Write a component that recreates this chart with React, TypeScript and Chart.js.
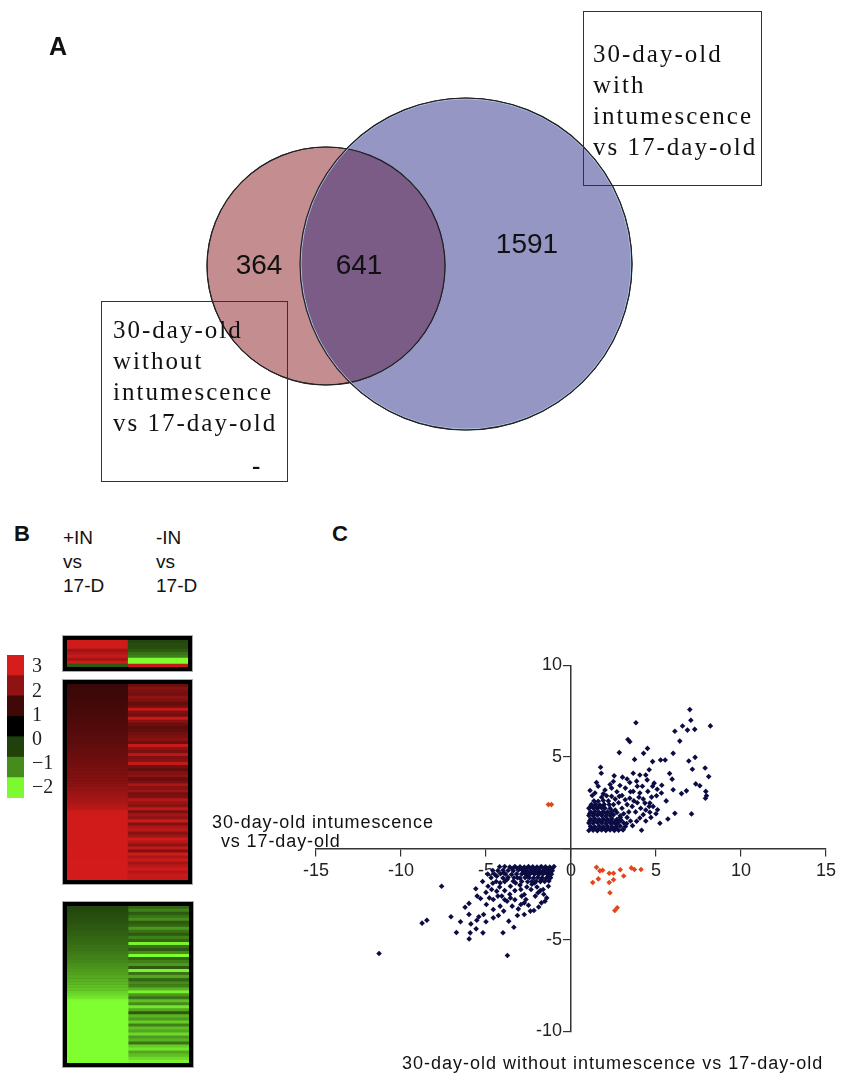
import React, { useEffect, useRef } from 'react';
import { Chart, registerables } from 'chart.js';
Chart.register(...registerables);

// ---------------- Panel A : Venn diagram ----------------
const vennSetNames = ['30-day-old without intumescence vs 17-day-old', '30-day-old with intumescence vs 17-day-old'];
const vennRegionLabels = ['364', '641', '1591'];
const vennBoxWithout = ['30-day-old', 'without', 'intumescence', 'vs 17-day-old'];
const vennBoxWith = ['30-day-old', 'with', 'intumescence', 'vs 17-day-old'];

// ---------------- Panel B : heat map (log2 ratios) ----------------
const heatColumnLines = [['+IN', 'vs', '17-D'], ['-IN', 'vs', '17-D']];
const heatTopWithIN = [2.9, 2.9, 2.9, 2.2, 2.5, 2.8, 2.3, 2.9, -0.7];
const heatTopWithoutIN = [-0.55, -0.6, -0.6, -0.7, -0.9, -1.0, -2.0, -2.0, 2.8];
const heatUpWithIN = [
  0.80, 0.82, 0.84, 0.86, 0.88, 0.90, 0.93, 0.95, 0.98, 1.00,
  1.03, 1.06, 1.09, 1.12, 1.15, 1.18, 1.21, 1.24, 1.27, 1.30,
  1.34, 1.38, 1.42, 1.46, 1.50, 1.54, 1.58, 1.63, 1.68, 1.73,
  1.78, 1.84, 1.90, 1.96, 2.02, 2.09, 2.16, 2.23, 2.31, 2.40,
  2.50, 2.62, 2.88, 2.90, 2.91, 2.90, 2.92, 2.91, 2.90, 2.92,
  2.93, 2.91, 2.92, 2.93, 2.92, 2.94, 2.93, 2.92, 2.94, 2.95,
  2.94, 2.93, 2.95, 2.94, 2.95,
];
const heatUpWithoutIN = [
  1.5, 1.9, 1.7, 1.6, 2.0, 1.8, 1.4, 1.6, 2.7, 1.8,
  1.6, 2.8, 1.9, 1.5, 1.3, 1.4, 1.6, 1.7, 1.9, 1.5,
  2.8, 2.0, 1.7, 2.6, 1.8, 1.9, 2.7, 1.6, 1.4, 1.8,
  2.0, 1.5, 1.7, 2.4, 1.9, 2.2, 1.6, 1.8, 2.5, 2.1,
  1.9, 2.7, 1.7, 2.3, 2.0, 2.8, 1.8, 2.4, 2.6, 1.9,
  2.2, 2.9, 2.5, 2.0, 2.7, 1.8, 2.9, 2.4, 2.8, 2.3,
  2.6, 2.9, 2.5, 2.8, 2.7,
];
const heatDownWithIN = [
  -0.55, -0.57, -0.59, -0.61, -0.63, -0.65, -0.68, -0.70, -0.73, -0.76,
  -0.79, -0.82, -0.85, -0.88, -0.91, -0.95, -0.99, -1.03, -1.07, -1.11,
  -1.16, -1.21, -1.26, -1.31, -1.37, -1.43, -1.49, -1.55, -1.62, -1.70,
  -1.80, -1.98, -2.0, -2.0, -1.99, -2.0, -2.0, -2.0, -1.99, -2.0,
  -2.0, -2.0, -1.99, -2.0, -2.0, -2.0, -2.0, -1.99, -2.0, -2.0,
  -2.0, -2.0,
];
const heatDownWithoutIN = [
  -0.8, -1.0, -0.7, -0.9, -1.1, -0.7, -0.8, -1.2, -0.9, -0.7,
  -1.0, -0.8, -1.9, -0.9, -0.7, -1.1, -2.0, -0.8, -1.0, -1.2,
  -0.7, -1.9, -0.9, -1.3, -0.8, -1.1, -1.0, -1.4, -1.9, -1.2,
  -0.9, -1.5, -1.1, -1.8, -1.3, -0.7, -1.4, -1.2, -1.6, -1.0,
  -1.5, -1.3, -1.7, -1.2, -1.4, -0.9, -1.6, -1.8, -1.3, -1.5,
  -1.7, -1.9,
];
const colorbarValues = [3, 2, 0.9, 0, -0.5, -1.1, -1.95];
const colorbarTicks = [-2, -1, 0, 1, 2, 3];

// ---------------- Panel C : scatter ----------------
const scatterXTicks = [-15, -10, -5, 0, 5, 10, 15];
const scatterYTicks = [-10, -5, 0, 5, 10];
const upInBoth = [
  [6.99, 7.59], [7.05, 7.01], [6.56, 6.69], [6.85, 6.47], [7.28, 6.51], [8.20, 6.70], [6.11, 6.41], [6.40, 5.87],
  [3.82, 6.87], [3.35, 5.96], [3.46, 5.83], [2.84, 5.24], [4.50, 5.47], [4.27, 5.20], [3.74, 4.87], [4.80, 4.75],
  [5.27, 4.84], [5.54, 4.84], [6.01, 5.20], [6.93, 4.78], [7.30, 4.98], [7.14, 4.33], [7.89, 4.40], [8.10, 3.93],
  [7.34, 3.53], [7.58, 3.43], [6.79, 3.15], [7.93, 3.12], [7.97, 2.88], [7.91, 2.75], [7.09, 1.89], [6.11, 1.92],
  [5.70, 1.61], [5.23, 1.38], [5.95, 3.79], [6.01, 3.21], [5.34, 3.46], [5.07, 3.24], [4.89, 3.57], [5.32, 3.03],
  [5.03, 2.88], [4.74, 2.81], [4.52, 3.12], [4.48, 3.75], [4.40, 4.02], [4.05, 4.02], [3.66, 4.11], [3.86, 3.68],
  [3.46, 3.61], [3.03, 3.90], [2.54, 3.97], [2.49, 3.66], [2.88, 3.44], [2.39, 3.30], [1.74, 4.44], [1.78, 4.11],
  [1.12, 3.17], [1.41, 3.03], [1.90, 2.99], [2.09, 2.88], [2.39, 2.85], [2.84, 2.85], [3.19, 2.66], [3.46, 2.75],
  [3.66, 3.12], [4.05, 3.03], [4.25, 2.70], [4.35, 2.48], [4.64, 2.48], [4.83, 2.30], [5.09, 2.12], [4.64, 1.98],
  [4.25, 1.85], [4.05, 1.67], [3.86, 1.49], [4.15, 1.00], [3.62, 1.25], [3.27, 1.36], [3.07, 1.03], [2.68, 1.31],
  [2.39, 1.40],
  [3.2, 3.3], [3.5, 3.1], [3.9, 3.4], [4.2, 3.4], [2.7, 3.1], [3.0, 2.9], [3.3, 2.4], [3.6, 2.3], [3.9, 2.5],
  [4.1, 2.2], [3.4, 2.0], [3.0, 2.2], [2.8, 2.5], [2.6, 2.7], [3.8, 2.0], [4.4, 2.1], [4.6, 2.3], [4.0, 2.8],
  [3.7, 2.6], [3.1, 1.9], [2.9, 1.7], [3.3, 1.7], [3.5, 1.5], [2.6, 2.1], [2.5, 2.4], [2.2, 2.6], [2.0, 3.2],
  [1.6, 3.4], [1.8, 2.8], [4.7, 1.7], [5.0, 1.9], [4.4, 1.5], [4.8, 3.4], [3.2, 1.2], [2.95, 1.55], [1.25, 2.9],
  [1.5, 3.6], [2.3, 3.5], [3.3, 3.8], [4.6, 4.3], [5.8, 4.1], [6.5, 3.0], [5.6, 2.6],
  [1.05, 0.98], [1.3, 1.0], [1.55, 0.97], [1.8, 1.01], [2.05, 0.99], [2.3, 1.02], [2.55, 0.98], [2.8, 1.0], [3.05, 1.03],
  [1.15, 1.2], [1.4, 1.18], [1.65, 1.22], [1.9, 1.19], [2.15, 1.21], [2.4, 1.2], [2.65, 1.17], [2.9, 1.22],
  [1.05, 1.4], [1.3, 1.38], [1.55, 1.42], [1.8, 1.4], [2.05, 1.37], [2.3, 1.41], [2.55, 1.39], [2.8, 1.43], [3.1, 1.4],
  [1.15, 1.6], [1.4, 1.62], [1.65, 1.58], [1.9, 1.61], [2.15, 1.6], [2.4, 1.63], [2.7, 1.59],
  [1.05, 1.8], [1.3, 1.79], [1.55, 1.82], [1.8, 1.8], [2.05, 1.78], [2.3, 1.81], [2.5, 1.84], [2.9, 1.79],
  [1.15, 2.0], [1.4, 2.02], [1.65, 1.98], [1.9, 2.01], [2.15, 2.0], [2.4, 2.03], [2.7, 1.97],
  [1.05, 2.2], [1.3, 2.21], [1.55, 2.18], [1.8, 2.22], [2.0, 2.2], [2.3, 2.19],
  [1.2, 2.4], [1.45, 2.42], [1.7, 2.38], [1.95, 2.41], [2.25, 2.4],
  [1.35, 2.6], [1.6, 2.58], [1.9, 2.62],
  [1.18, 1.1], [1.43, 1.09], [1.68, 1.11], [1.93, 1.1], [2.18, 1.08], [2.43, 1.11], [2.68, 1.1],
  [1.1, 1.5], [1.35, 1.51], [1.6, 1.49], [1.85, 1.5], [2.1, 1.52], [2.35, 1.5], [2.6, 1.49],
  [1.1, 1.9], [1.35, 1.91], [1.6, 1.89], [1.85, 1.9], [2.1, 1.92], [2.35, 1.9],
  [1.15, 2.3], [1.4, 2.31], [1.65, 2.29], [1.9, 2.3],
];
const downInBoth = [
  [-11.29, -5.74], [-3.74, -5.85], [-7.61, -2.06], [-8.76, -4.08], [-8.48, -3.92], [-7.06, -3.73], [-6.74, -4.59],
  [-6.23, -3.21], [-5.99, -4.94], [-5.93, -4.61], [-5.89, -4.12], [-5.54, -3.92], [-5.58, -4.39], [-5.18, -4.61],
  [-5.42, -3.73], [-5.14, -3.61], [-4.98, -3.06], [-5.52, -2.60], [-5.32, -2.73], [-4.57, -3.33], [-4.57, -3.79],
  [-4.27, -3.66], [-4.17, -3.15], [-3.96, -3.42], [-3.66, -3.97], [-3.36, -4.30], [-3.76, -2.88], [-3.46, -3.15],
  [-3.15, -3.66], [-2.75, -3.61], [-2.39, -3.42], [-2.18, -3.39], [-2.95, -3.06], [-2.65, -2.79], [-1.74, -2.97],
  [-1.53, -2.88], [-1.43, -2.70], [-1.94, -2.42], [-1.64, -2.24], [-1.33, -2.06], [-4.88, -2.06], [-4.67, -2.24],
  [-4.37, -2.33], [-4.17, -1.88], [-3.76, -1.69], [-4.37, -1.51], [-3.96, -1.33], [-3.56, -2.06], [-3.26, -1.88],
  [-2.95, -2.24], [-2.75, -2.51], [-2.35, -2.24], [-2.14, -1.88], [-1.74, -1.69], [-1.33, -1.51], [-2.55, -1.51],
  [-3.15, -1.60], [-3.56, -2.70], [-4.07, -2.60], [-4.57, -2.79], [-2.75, -2.97],
  [-4.6, -1.9], [-4.2, -2.1], [-3.9, -2.3], [-3.6, -2.5], [-3.3, -2.3], [-3.0, -2.0], [-2.6, -2.1], [-2.3, -1.95],
  [-2.0, -2.1], [-1.8, -2.3], [-2.9, -2.6], [-3.3, -2.8], [-3.9, -2.8], [-4.3, -2.6], [-5.0, -2.4], [-2.1, -2.6],
  [-1.6, -2.5], [-5.2, -1.8], [-5.6, -2.2], [-6.0, -3.6], [-6.5, -4.0], [-5.0, -4.0], [-4.0, -4.6], [-6.0, -3.0],
  [-4.8, -2.7], [-3.1, -3.3], [-2.5, -3.1], [-1.9, -3.2],
  [-4.2, -1.0], [-3.9, -0.99], [-3.6, -1.01], [-3.3, -0.98], [-3.0, -1.0], [-2.75, -1.02], [-2.5, -0.99],
  [-2.25, -1.0], [-2.0, -1.01], [-1.75, -0.98], [-1.5, -1.0], [-1.25, -1.02], [-1.0, -0.99],
  [-4.6, -1.2], [-4.3, -1.21], [-4.0, -1.19], [-3.7, -1.2], [-3.4, -1.22], [-3.1, -1.18], [-2.85, -1.2],
  [-2.6, -1.21], [-2.35, -1.19], [-2.1, -1.2], [-1.85, -1.22], [-1.6, -1.2], [-1.35, -1.18], [-1.1, -1.21],
  [-4.9, -1.4], [-4.5, -1.41], [-4.15, -1.38], [-3.85, -1.4], [-3.5, -1.42], [-3.2, -1.39], [-2.9, -1.4],
  [-2.65, -1.41], [-2.4, -1.38], [-2.15, -1.4], [-1.9, -1.42], [-1.65, -1.4], [-1.4, -1.39], [-1.15, -1.41],
  [-4.7, -1.6], [-4.0, -1.61], [-3.7, -1.58], [-3.35, -1.6], [-3.0, -1.62], [-2.7, -1.59], [-2.45, -1.6],
  [-2.2, -1.61], [-1.95, -1.58], [-1.7, -1.6], [-1.45, -1.62], [-1.2, -1.6],
  [-4.4, -1.8], [-3.9, -1.81], [-3.4, -1.79], [-2.9, -1.8], [-2.55, -1.82], [-2.3, -1.8], [-2.05, -1.79],
  [-1.8, -1.81], [-1.55, -1.8], [-1.3, -1.78],
  [-3.45, -1.1], [-3.15, -1.09], [-2.88, -1.11], [-2.62, -1.1], [-2.37, -1.09], [-2.12, -1.11], [-1.88, -1.1],
  [-1.62, -1.09], [-1.38, -1.11], [-1.12, -1.1], [-2.78, -1.3], [-2.52, -1.31], [-2.27, -1.29], [-2.02, -1.3],
  [-1.77, -1.31], [-1.52, -1.29], [-1.27, -1.3],
];
const oppositeChange = [
  [1.50, -1.03], [1.70, -1.22], [1.86, -1.19], [1.28, -1.86], [1.61, -1.66], [2.25, -1.35], [2.50, -1.35],
  [2.90, -1.16], [3.10, -1.50], [2.25, -1.86], [2.50, -1.71], [3.55, -1.06], [3.73, -1.15], [4.12, -1.15],
  [2.29, -2.42], [2.72, -3.24], [2.58, -3.39], [-1.33, 2.40], [-1.15, 2.40],
];

const SANS = '"Liberation Sans", Arial, sans-serif';
const SERIF = '"Liberation Serif", "Times New Roman", serif';

function heatColor(v: number): string {
  if (v >= 0) {
    const t = Math.min(v / 3, 1);
    return `rgb(${Math.round(215 * t)},${Math.round(28 * t)},${Math.round(28 * t)})`;
  }
  const t = Math.min(-v / 2, 1);
  return `rgb(${Math.round(128 * t)},${Math.round(255 * t)},${Math.round(48 * t)})`;
}

const baseOpts = {
  responsive: false,
  animation: false as const,
  events: [] as any[],
  plugins: { legend: { display: false }, tooltip: { enabled: false } },
};

function heatConfig(colA: number[], colB: number[]): any {
  return {
    type: 'bar',
    data: {
      labels: colA.map((_, i) => 'gene ' + (i + 1)),
      datasets: [
        { label: '+IN vs 17-D', data: colA.map(() => [0, 1]), backgroundColor: colA.map(heatColor), borderWidth: 0, grouped: false, barPercentage: 1, categoryPercentage: 1 },
        { label: '-IN vs 17-D', data: colB.map(() => [1, 2]), backgroundColor: colB.map(heatColor), borderWidth: 0, grouped: false, barPercentage: 1, categoryPercentage: 1 },
      ],
    },
    options: {
      ...baseOpts,
      indexAxis: 'y',
      layout: { padding: 0, autoPadding: false },
      scales: { x: { type: 'linear', min: 0, max: 2, display: false }, y: { display: false } },
    },
  };
}

function colorbarConfig(): any {
  return {
    type: 'bar',
    data: {
      labels: colorbarValues.map(String),
      datasets: [{ label: 'log2 ratio', data: colorbarValues.map(() => [0, 1]), backgroundColor: colorbarValues.map(heatColor), borderWidth: 0, barPercentage: 1, categoryPercentage: 1 }],
    },
    options: {
      ...baseOpts,
      indexAxis: 'y',
      layout: { padding: 0, autoPadding: false },
      scales: {
        x: { type: 'linear', min: 0, max: 1, display: false },
        y: { display: false },
        y2: {
          type: 'linear', position: 'right', min: -2.41, max: 3.5, offset: false,
          afterFit: (s: any) => { s.width = 43; s.paddingTop = 0; s.paddingBottom = 0; },
          afterBuildTicks: (s: any) => { s.ticks = colorbarTicks.map((v) => ({ value: v })); },
          grid: { display: false, drawTicks: false, offset: false },
          border: { display: false },
          ticks: { autoSkip: false, padding: 8, color: '#222', font: { family: SERIF, size: 20 }, callback: (v: any) => (v < 0 ? '\u2212' + Math.abs(v) : String(v)) },
        },
      },
    },
  };
}

const vennPlugin = {
  id: 'vennOverlap',
  afterDatasetsDraw(chart: any) {
    const ctx = chart.ctx;
    const a = chart.getDatasetMeta(0).data[0];
    const b = chart.getDatasetMeta(1).data[0];
    const ra = a.options.radius, rb = b.options.radius;
    ctx.save();
    ctx.beginPath(); ctx.arc(b.x, b.y, rb, 0, Math.PI * 2); ctx.clip();
    ctx.beginPath(); ctx.arc(a.x, a.y, ra, 0, Math.PI * 2); ctx.fillStyle = '#7a5c86'; ctx.fill();
    ctx.restore();
    ctx.save();
    ctx.lineWidth = 1.2; ctx.strokeStyle = '#222';
    ctx.beginPath(); ctx.arc(a.x, a.y, ra, 0, Math.PI * 2); ctx.stroke();
    ctx.strokeStyle = '#a8c4e4'; ctx.lineWidth = 1;
    ctx.beginPath(); ctx.arc(b.x, b.y, rb - 1, 0, Math.PI * 2); ctx.stroke();
    ctx.strokeStyle = '#222'; ctx.lineWidth = 1.2;
    ctx.beginPath(); ctx.arc(b.x, b.y, rb, 0, Math.PI * 2); ctx.stroke();
    const xs = chart.scales.x, ys = chart.scales.y;
    const pos = chart.options.plugins.vennOverlap.labelPositions;
    ctx.fillStyle = '#111';
    ctx.font = '28px ' + SANS;
    ctx.textAlign = 'center';
    ctx.textBaseline = 'alphabetic';
    vennRegionLabels.forEach((t, i) => ctx.fillText(t, xs.getPixelForValue(pos[i][0]), ys.getPixelForValue(pos[i][1])));
    ctx.restore();
  },
};

function vennConfig(): any {
  return {
    type: 'bubble',
    data: {
      datasets: [
        { label: vennSetNames[0], data: [{ x: 326, y: 266, r: 119 }], backgroundColor: '#c48d90', borderColor: '#222', borderWidth: 1, clip: false },
        { label: vennSetNames[1], data: [{ x: 466, y: 264, r: 166 }], backgroundColor: '#9696c4', borderColor: '#222', borderWidth: 1, clip: false },
      ],
    },
    options: {
      ...baseOpts,
      layout: { padding: 0, autoPadding: false },
      plugins: { ...baseOpts.plugins, vennOverlap: { labelPositions: [[259, 274], [359, 274], [527, 253]] } },
      scales: {
        x: { type: 'linear', min: 0, max: 841, display: false },
        y: { type: 'linear', min: 0, max: 500, reverse: true, display: false },
      },
    },
    plugins: [vennPlugin],
  };
}

function scatterConfig(): any {
  const axisCommon = {
    grid: { drawOnChartArea: false, drawTicks: true, tickLength: 7, color: '#333', lineWidth: 1.2 },
    border: { display: true, color: '#333', width: 1.5 },
  };
  const pts = (arr: number[][]) => arr.map(([x, y]) => ({ x, y }));
  const navy = '#0c0c44';
  return {
    type: 'scatter',
    data: {
      datasets: [
        { label: 'up in both', data: pts(upInBoth), backgroundColor: navy, borderColor: navy, borderWidth: 0, pointStyle: 'rectRot', pointRadius: 2.8 },
        { label: 'down in both', data: pts(downInBoth), backgroundColor: navy, borderColor: navy, borderWidth: 0, pointStyle: 'rectRot', pointRadius: 2.8 },
        { label: 'opposite', data: pts(oppositeChange), backgroundColor: '#e2461c', borderColor: '#e2461c', borderWidth: 0, pointStyle: 'rectRot', pointRadius: 2.8 },
      ],
    },
    options: {
      ...baseOpts,
      layout: { padding: { left: 26, right: 14, top: 25.5, bottom: 42.5 }, autoPadding: false },
      scales: {
        x: {
          type: 'linear', min: -15, max: 15, position: { y: 0 },
          afterFit: (s: any) => { s.height = 0; },
          afterBuildTicks: (s: any) => { s.ticks = scatterXTicks.map((v) => ({ value: v })); },
          ...axisCommon,
          ticks: { color: '#222', font: { family: SANS, size: 18 }, padding: 5, maxRotation: 0, autoSkip: false, callback: (v: any) => String(v) },
        },
        y: {
          type: 'linear', min: -10, max: 10, position: { x: 0 },
          afterFit: (s: any) => { s.width = 0; },
          afterBuildTicks: (s: any) => { s.ticks = scatterYTicks.map((v) => ({ value: v })); },
          ...axisCommon,
          ticks: { color: '#222', font: { family: SANS, size: 18 }, padding: 3, autoSkip: false, callback: (v: any) => (v === 0 ? '' : String(v) + '\u2002') },
        },
      },
    },
  };
}

function ChartCanvas({ make, left, top, width, height, bg }: any) {
  const ref = useRef<HTMLCanvasElement | null>(null);
  useEffect(() => {
    const chart = new Chart(ref.current as HTMLCanvasElement, make());
    return () => chart.destroy();
  }, []);
  return (
    <canvas ref={ref} width={width} height={height}
      style={{ position: 'absolute', left, top, width, height, background: bg || 'transparent' }} />
  );
}

function Txt({ x, base, size, children, bold = false, serif = false, ls = 0 }: any) {
  const k = serif ? 0.8375 : 0.8465;
  return (
    <div style={{
      position: 'absolute', left: x, top: base - k * size, fontSize: size, lineHeight: `${size}px`,
      fontFamily: serif ? SERIF : SANS, fontWeight: bold ? 700 : 400, letterSpacing: ls,
      whiteSpace: 'pre', color: '#111',
    }}>{children}</div>
  );
}

function Frame({ left, top, width, height }: any) {
  return (
    <div style={{
      position: 'absolute', left, top, width, height, boxSizing: 'border-box',
      border: '4px solid #000', boxShadow: '0 0 0 1px #aaa', background: '#000',
    }} />
  );
}

export default function App() {
  return (
    <div style={{ position: 'absolute', left: 0, top: 0, width: 841, height: 1074, background: '#fff', overflow: 'hidden' }}>
      {/* Panel A */}
      <ChartCanvas make={vennConfig} left={0} top={0} width={841} height={500} />
      <Txt x={49} base={55} size={25} bold>A</Txt>
      <div style={{ position: 'absolute', left: 583, top: 11, width: 179, height: 175, boxSizing: 'border-box', border: '1.3px solid #333' }} />
      {vennBoxWith.map((l, i) => <Txt key={'w' + i} x={593} base={62 + 31 * i} size={25} serif ls={2}>{l}</Txt>)}
      <div style={{ position: 'absolute', left: 101, top: 301, width: 187, height: 181, boxSizing: 'border-box', border: '1.3px solid #333' }} />
      {vennBoxWithout.map((l, i) => <Txt key={'o' + i} x={113} base={338 + 31 * i} size={25} serif ls={2}>{l}</Txt>)}
      <Txt x={252} base={474} size={25} serif bold>-</Txt>

      {/* Panel B */}
      <Txt x={14} base={542} size={22} bold>B</Txt>
      {heatColumnLines[0].map((l, i) => <Txt key={'a' + i} x={63} base={544 + 24 * i} size={19}>{l}</Txt>)}
      {heatColumnLines[1].map((l, i) => <Txt key={'b' + i} x={156} base={544 + 24 * i} size={19}>{l}</Txt>)}
      <ChartCanvas make={colorbarConfig} left={7} top={655} width={60} height={143} />
      <Frame left={63} top={636} width={129} height={35} />
      <ChartCanvas make={() => heatConfig(heatTopWithIN, heatTopWithoutIN)} left={67} top={640} width={121} height={27} bg="#000" />
      <Frame left={63} top={680} width={129} height={204} />
      <ChartCanvas make={() => heatConfig(heatUpWithIN, heatUpWithoutIN)} left={67} top={684} width={121} height={196} bg="#000" />
      <Frame left={63} top={902} width={130} height={165} />
      <ChartCanvas make={() => heatConfig(heatDownWithIN, heatDownWithoutIN)} left={67} top={906} width={122} height={157} bg="#000" />

      {/* Panel C */}
      <Txt x={332} base={542} size={22} bold>C</Txt>
      <ChartCanvas make={scatterConfig} left={290} top={640} width={551} height={434} />
      <Txt x={212} base={828} size={18} ls={0.9}>30-day-old intumescence</Txt>
      <Txt x={215} base={847} size={18} ls={0.9}>{' vs 17-day-old'}</Txt>
      <Txt x={402} base={1069} size={18} ls={1}>30-day-old without intumescence vs 17-day-old</Txt>
    </div>
  );
}
